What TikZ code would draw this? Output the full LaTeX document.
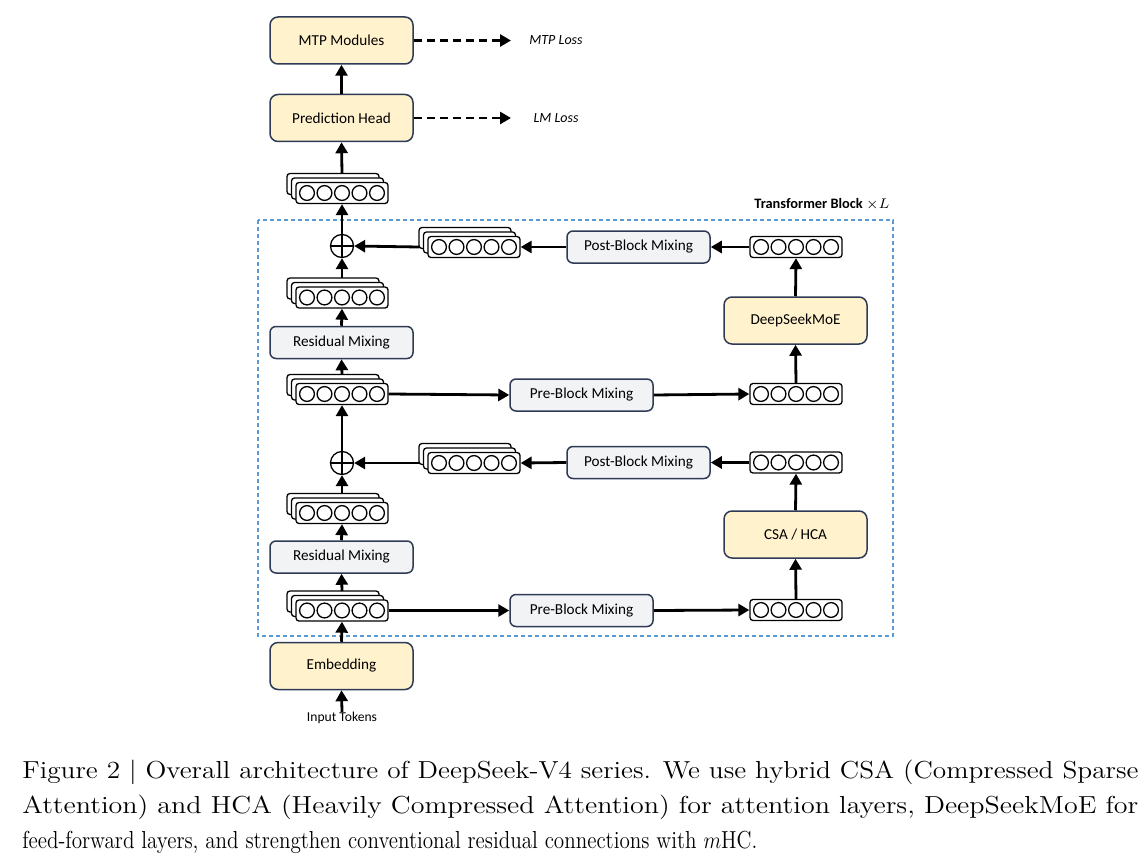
\documentclass[tikz,border=0pt]{standalone}
\usepackage{fontspec}
\usepackage{graphicx}
\usetikzlibrary{arrows.meta}
\newfontfamily\carlito{Carlito}
\definecolor{boxyellow}{HTML}{FFF2CC}
\definecolor{boxgray}{HTML}{F2F3F5}
\definecolor{boxedge}{HTML}{2F3B56}
\definecolor{frameblue}{HTML}{5B9BD5}
\tikzset{
  bigbox/.style={draw=boxedge, line width=0.75pt, fill=boxyellow, rounded corners=4pt,
    minimum width=71.5pt, minimum height=23.5pt, inner sep=0pt,
    font=\carlito\fontsize{7.6pt}{9pt}\selectfont},
  graybox/.style={bigbox, fill=boxgray, minimum height=16pt, rounded corners=3pt},
  vecbox/.style={draw=black, line width=0.65pt, fill=white, rounded corners=1.5pt,
    minimum width=46pt, minimum height=10.5pt, inner sep=0pt},
  vecline/.style={draw=black, line width=0.65pt, fill=white, rounded corners=1.5pt},
  flow/.style={line width=1.4pt, -{Triangle[length=5.5pt,width=6pt]}},
  lossflow/.style={line width=1.4pt, dash pattern=on 4pt off 2.5pt, -{Triangle[length=5.5pt,width=6pt]}},
  plus/.style={circle, draw, line width=0.65pt, minimum size=11.5pt, inner sep=0pt, fill=white},
  losslabel/.style={font=\carlito\itshape\fontsize{7pt}{8pt}\selectfont, inner sep=0pt},
  capline/.style={anchor=base west, inner sep=0pt, font=\fontsize{12.3pt}{15pt}\selectfont},
}
\newcommand\vcircles[1]{\foreach \i in {-2,...,2}{\draw[line width=0.65pt] ([xshift=\i*8.75pt]#1.center) circle (3.7pt);}}
\newcommand\vstack[3]{%
  \draw[vecline] (#2-55,#3-19.5) rectangle (#2+37,#3+1.5);
  \draw[vecline] (#2-50.5,#3-15) rectangle (#2+41.5,#3+6);
  \node[vecbox] (#1) at (#2,#3) {};
  \vcircles{#1}%
  \coordinate (#1-l) at (#2-55,#3);
  \coordinate (#1-t) at (#2,#3-19.5);
}
\newcommand\vsingle[3]{\node[vecbox] (#1) at (#2,#3) {};\vcircles{#1}}
\begin{document}
\begin{tikzpicture}[x=0.5pt,y=-0.5pt]
\fill[white] (0,0) rectangle (1143,866);
\useasboundingbox (0,0) rectangle (1143,866);

% frame
\draw[frameblue, line width=0.6pt, dash pattern=on 2pt off 1.5pt] (258,220) rectangle (893,636);
\node[anchor=east, inner sep=0pt, font=\carlito\bfseries\fontsize{7.2pt}{9pt}\selectfont] (tb) at (890,204) {Transformer Block {\normalfont$\times L$}};

% top
\node[bigbox] (mtp) at (341.5,40.5) {MTP Modules};
\node[bigbox] (ph) at (341.5,118) {Prediction Head};
\node[losslabel] (mtploss) at (556,40.5) {MTP Loss};
\node[losslabel] (lmloss) at (556,118) {LM Loss};
\coordinate (mtpend) at (511,40.5);
\coordinate (lmend) at (511,118);
\vstack{stop}{342}{193}

% upper block
\node[plus] (pu) at (342,246) {};
\draw[line width=0.65pt] (pu.north) -- (pu.south) (pu.west) -- (pu.east);
\vstack{supost}{474}{247}
\node[graybox] (postu) at (638.5,247) {Post-Block Mixing};
\vsingle{vuo}{796}{247}
\node[bigbox] (moe) at (795.5,320.5) {DeepSeekMoE};
\vsingle{vui}{796}{394}
\node[graybox] (preu) at (581.5,395) {Pre-Block Mixing};
\vstack{s4}{342}{297.5}
\node[graybox] (rmu) at (341.5,342.5) {Residual Mixing};
\vstack{s3}{342}{394}

% lower block
\node[plus] (pl) at (342,463) {};
\draw[line width=0.65pt] (pl.north) -- (pl.south) (pl.west) -- (pl.east);
\vstack{slpost}{474}{463}
\node[graybox] (postl) at (638.5,462.5) {Post-Block Mixing};
\vsingle{vlo}{796}{462.5}
\node[bigbox] (csa) at (795.5,534.5) {CSA / HCA};
\vsingle{vli}{796}{610}
\node[graybox] (prel) at (581.5,610.5) {Pre-Block Mixing};
\vstack{s2}{342}{513}
\node[graybox] (rml) at (341.5,557) {Residual Mixing};
\vstack{s1}{342}{610.5}

% bottom
\node[bigbox] (emb) at (341.5,666) {Embedding};
\node[inner sep=0pt, font=\carlito\fontsize{6.8pt}{8pt}\selectfont] (in) at (342,718) {Input Tokens};

% connectors
\draw[flow] (in.north) -- (emb.south);
\draw[flow] (emb.north) -- (s1.south);
\draw[flow] (s1-t) -- (rml.south);
\draw[flow] (rml.north) -- (s2.south);
\draw[flow] (s2-t) -- (pl.south);
\draw[flow] (s1.east) -- (prel.west);
\draw[flow] (prel.east) -- (vli.west);
\draw[flow] (vli.north) -- (csa.south);
\draw[flow] (csa.north) -- (vlo.south);
\draw[flow] (vlo.west) -- (postl.east);
\draw[flow] (postl.west) -- (slpost.east);
\draw[flow] (slpost-l) -- (pl.east);
\draw[flow] (pl.north) -- (s3.south);
\draw[flow] (s3-t) -- (rmu.south);
\draw[flow] (rmu.north) -- (s4.south);
\draw[flow] (s4-t) -- (pu.south);
\draw[flow] (s3.east) -- (preu.west);
\draw[flow] (preu.east) -- (vui.west);
\draw[flow] (vui.north) -- (moe.south);
\draw[flow] (moe.north) -- (vuo.south);
\draw[flow] (vuo.west) -- (postu.east);
\draw[flow] (postu.west) -- (supost.east);
\draw[flow] (supost-l) -- (pu.east);
\draw[flow] (pu.north) -- (stop.south);
\draw[flow] (stop-t) -- (ph.south);
\draw[flow] (ph.north) -- (mtp.south);
\draw[lossflow] (mtp.east) -- (mtpend);
\draw[lossflow] (ph.east) -- (lmend);

% caption
\node[capline] (cap1) at (22,778) {\resizebox{558pt}{\height}{Figure 2 | Overall architecture of DeepSeek-V4 series. We use hybrid CSA (Compressed Sparse}};
\node[capline] (cap2) at (22,813) {\resizebox{558pt}{\height}{Attention) and HCA (Heavily Compressed Attention) for attention layers, DeepSeekMoE for}};
\node[capline] (cap3) at (22,848) {\resizebox{367.5pt}{\height}{feed-forward layers, and strengthen conventional residual connections with $m$HC.}};
\end{tikzpicture}
\end{document}
